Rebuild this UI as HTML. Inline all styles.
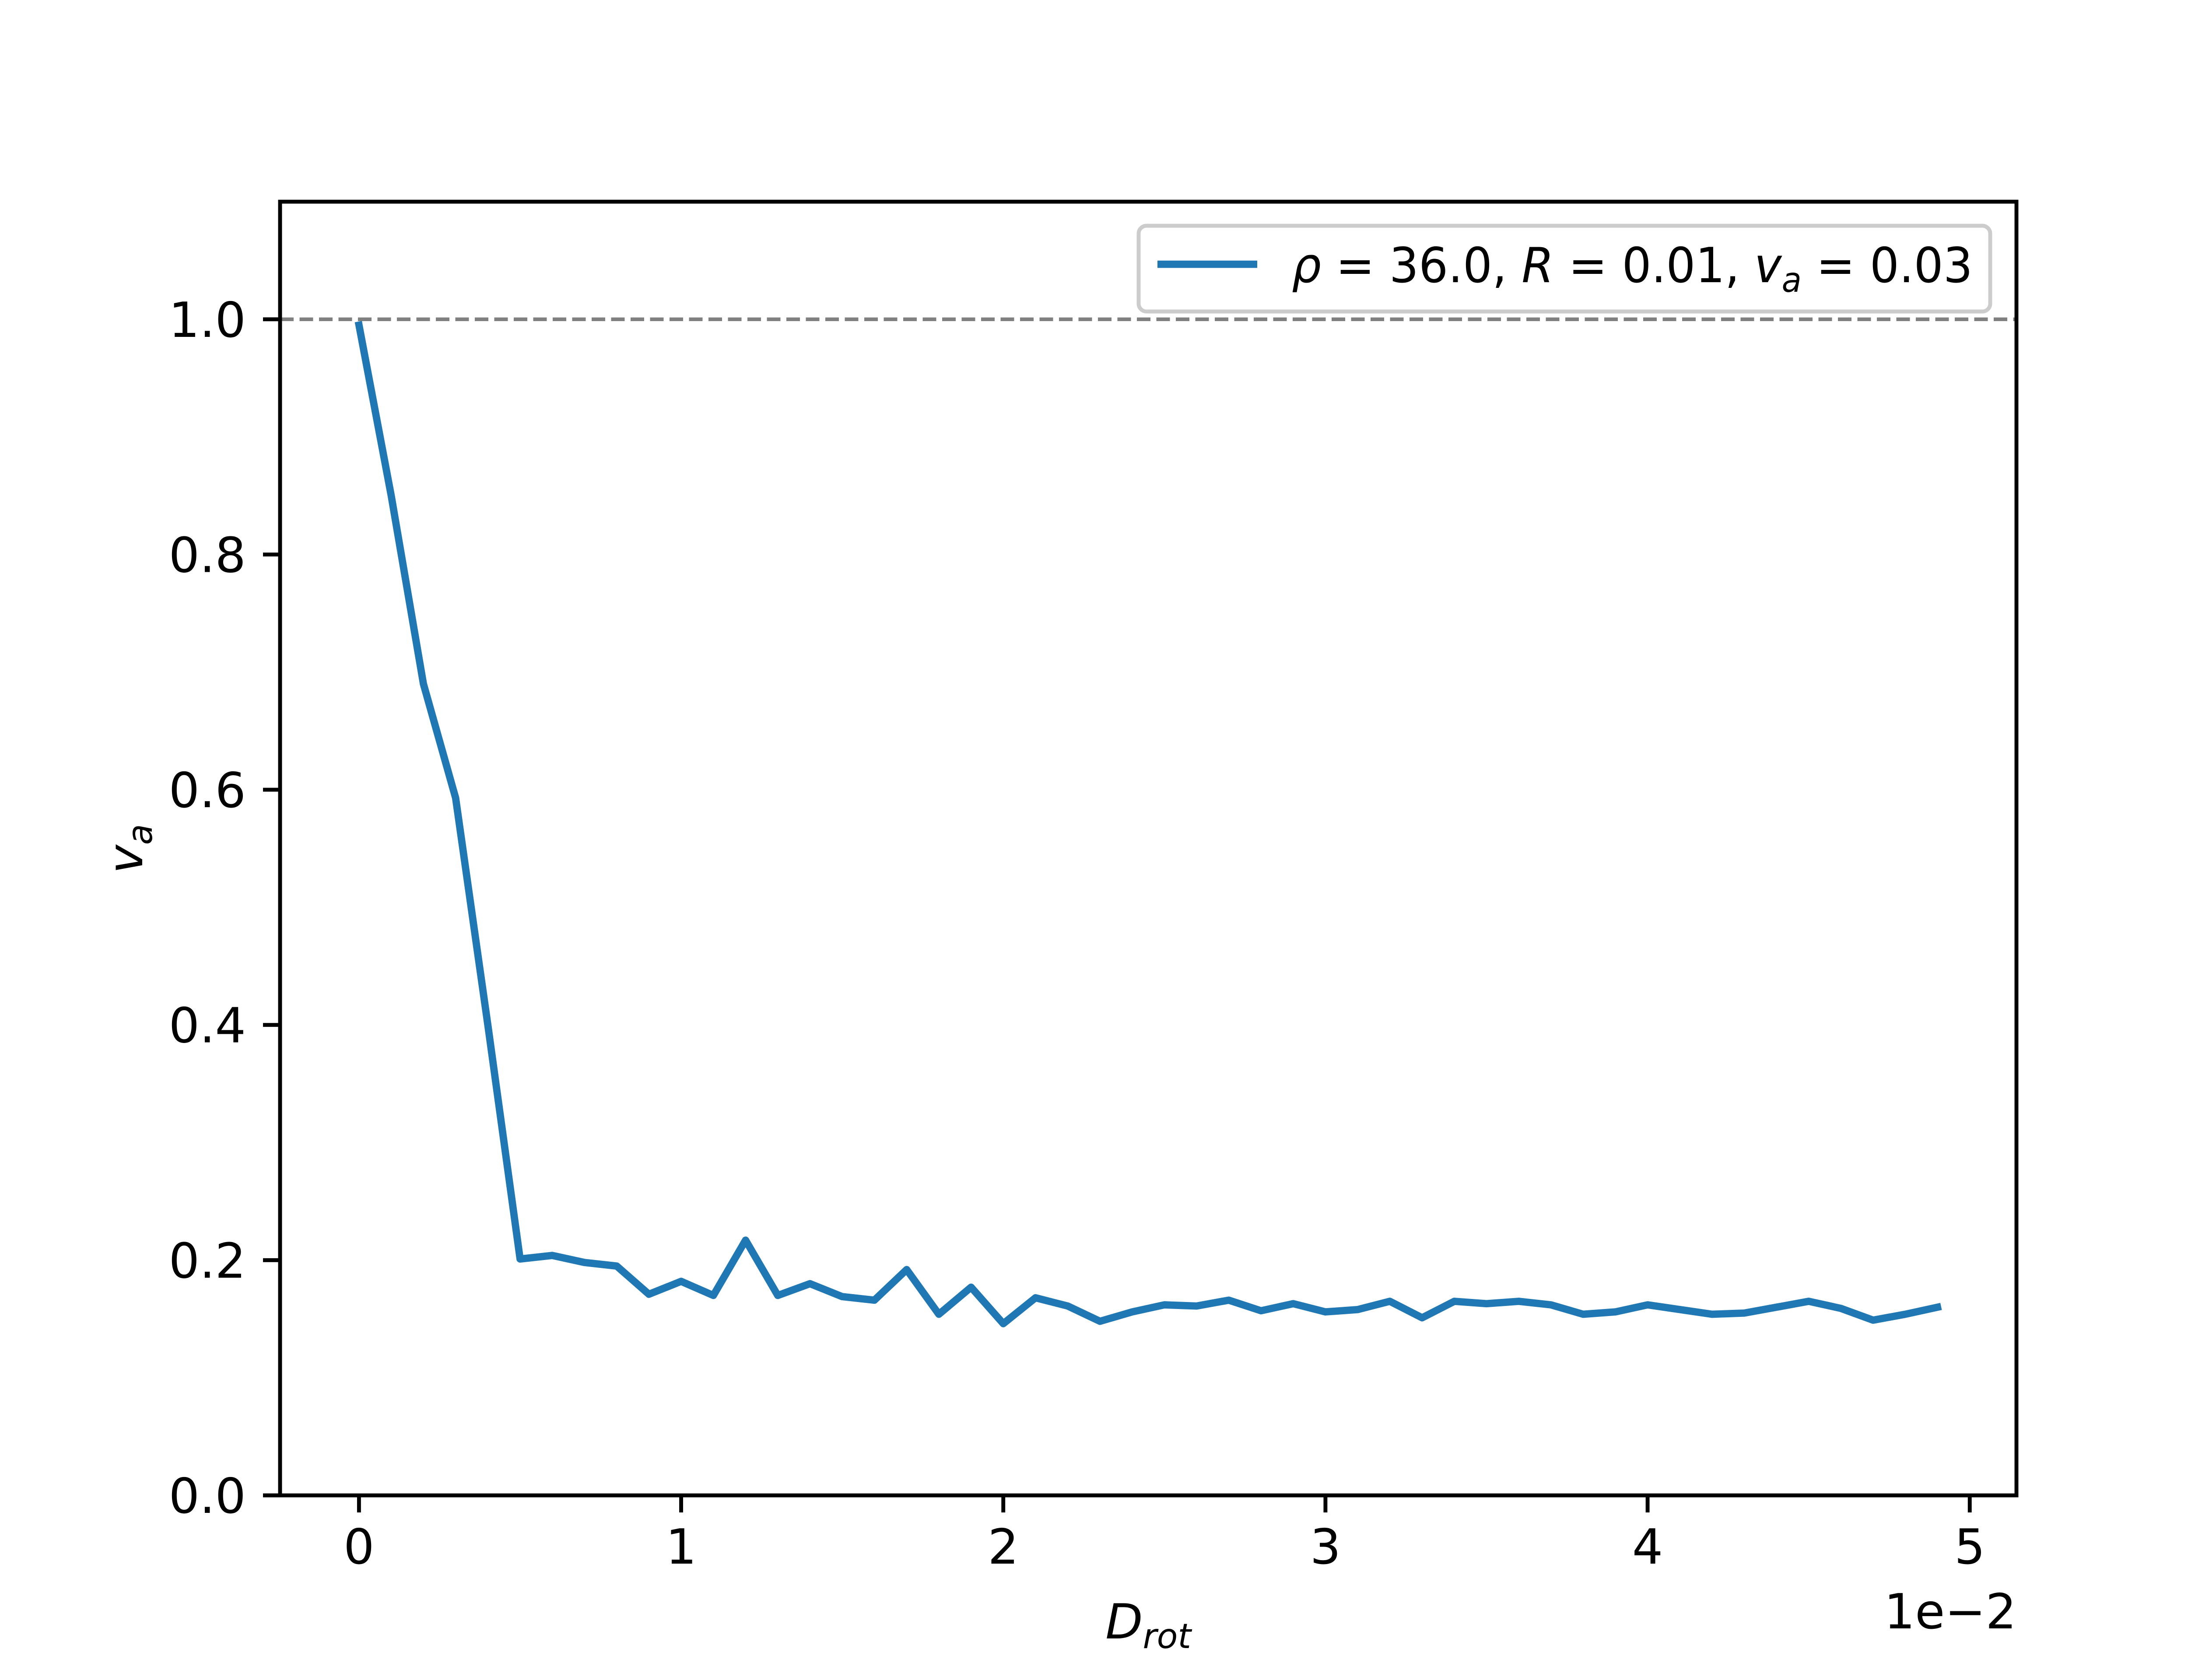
<!DOCTYPE html>
<html><head><meta charset="utf-8"><style>
html,body{margin:0;padding:0;background:#fff}
body{position:relative}
svg{display:block}
text{font-family:"DejaVu Sans","Liberation Sans",sans-serif;fill:#000}
</style></head><body>
<svg id="chart" width="5120" height="3840" viewBox="0 0 5120 3840" xmlns="http://www.w3.org/2000/svg">
<rect width="5120" height="3840" fill="#fff"/>
<g id="plot"></g>
</svg>
<script>
const xValues=[0,0.001,0.002,0.003,0.004,0.005,0.006,0.007,0.008,0.009,0.010,0.011,0.012,0.013,0.014,0.015,0.016,0.017,0.018,0.019,0.020,0.021,0.022,0.023,0.024,0.025,0.026,0.027,0.028,0.029,0.030,0.031,0.032,0.033,0.034,0.035,0.036,0.037,0.038,0.039,0.040,0.041,0.042,0.043,0.044,0.045,0.046,0.047,0.048,0.049];
const vaValues=[0.995,0.85,0.69,0.593,0.40,0.201,0.204,0.198,0.195,0.171,0.182,0.170,0.217,0.170,0.180,0.169,0.166,0.192,0.154,0.177,0.146,0.168,0.161,0.148,0.156,0.162,0.161,0.166,0.157,0.163,0.156,0.158,0.165,0.151,0.165,0.163,0.165,0.162,0.154,0.156,0.162,0.158,0.154,0.155,0.160,0.165,0.159,0.149,0.154,0.160];
const xTicks=[0,0.01,0.02,0.03,0.04,0.05];
const xTickLabels=["0","1","2","3","4","5"];
const yTicks=[0,0.2,0.4,0.6,0.8,1.0];
const yTickLabels=["0.0","0.2","0.4","0.6","0.8","1.0"];
const refLine=1.0;

const L=640,R=4608,T=461,B=3418;
const xMin=-0.00245,xMax=0.05145,yMin=0,yMax=1.1;
const sx=v=>L+(v-xMin)/(xMax-xMin)*(R-L);
const sy=v=>B-(v-yMin)/(yMax-yMin)*(B-T);
const NS="http://www.w3.org/2000/svg";
const g=document.getElementById('plot');
function mk(tag,attrs,parent){const e=document.createElementNS(NS,tag);for(const k in attrs)e.setAttribute(k,attrs[k]);(parent||g).appendChild(e);return e;}

const rl=mk('line',{x1:L,x2:R,y1:sy(refLine),y2:sy(refLine),stroke:'#808080','stroke-width':8.3,'stroke-dasharray':'31,13.5'});



const pts=xValues.map((x,i)=>sx(x).toFixed(1)+','+sy(vaValues[i]).toFixed(1)).join(' ');
const line=mk('polyline',{points:pts,fill:'none',stroke:'#1f77b4','stroke-width':16.7,'stroke-linejoin':'round','stroke-linecap':'square'});



const fr=mk('rect',{x:L,y:T,width:R-L,height:B-T,fill:'none',stroke:'#000','stroke-width':8.9});



xTicks.forEach((t,i)=>{
  const x=sx(t);
  const tk=mk('line',{x1:x,x2:x,y1:B,y2:B+39,stroke:'#000','stroke-width':8.9});
  
  
  const tx=mk('text',{x:x,y:B+156,'font-size':111,'text-anchor':'middle'});
  tx.textContent=xTickLabels[i];
  
  
});
yTicks.forEach((t,i)=>{
  const y=sy(t);
  const tk=mk('line',{x1:L-39,x2:L,y1:y,y2:y,stroke:'#000','stroke-width':8.9});
  
  
  const tx=mk('text',{x:L-78,y:y+40,'font-size':111,'text-anchor':'end'});
  tx.textContent=yTickLabels[i];
  
  
});
</script>
<svg style="position:absolute;left:0;top:0" width="5120" height="3840" xmlns="http://www.w3.org/2000/svg">
<text x="4608" y="3722" font-size="111" text-anchor="end" style="font-family:'DejaVu Sans',sans-serif">1e−2</text>
<text x="2624" y="3745" font-size="111" text-anchor="middle" style="font-family:'DejaVu Sans',sans-serif;font-style:italic">D<tspan font-size="78" dy="22">rot</tspan></text>
<text transform="translate(325,1940) rotate(-90)" font-size="111" text-anchor="middle" style="font-family:'DejaVu Sans',sans-serif;font-style:italic">v<tspan font-size="78" dy="22">a</tspan></text>
<g>
<rect x="2602" y="516" width="1946" height="196" rx="18" fill="#fff" fill-opacity="0.8" stroke="#ccc" stroke-width="8.9"/>
<line x1="2645" x2="2873" y1="604" y2="604" stroke="#1f77b4" stroke-width="16.7"/>
<text x="2952" y="645" font-size="111" textLength="1556" lengthAdjust="spacingAndGlyphs" style="font-family:'DejaVu Sans',sans-serif"><tspan font-style="italic">ρ</tspan> = 36.0, <tspan font-style="italic">R</tspan> = 0.01, <tspan font-style="italic">v</tspan><tspan font-style="italic" font-size="78" dy="22">a</tspan><tspan dy="-22"> = 0.03</tspan></text>
</g>
</svg>
</body></html>
